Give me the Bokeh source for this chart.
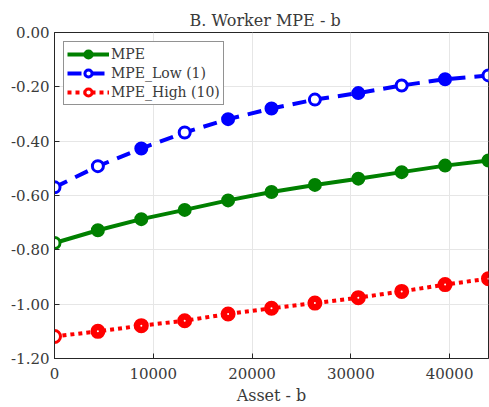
from bokeh.plotting import figure
from bokeh.models import ColumnDataSource, Legend, LegendItem, FixedTicker, NumeralTickFormatter, Range1d
from bokeh.embed import file_html
from bokeh.resources import INLINE

asset = [0, 4394, 8788, 13182, 17576, 21970, 26364, 30758, 35152, 39546, 43940]
mpe = [-0.775, -0.728, -0.687, -0.653, -0.618, -0.587, -0.561, -0.538, -0.514, -0.490, -0.471]
mpe_low = [-0.570, -0.492, -0.427, -0.368, -0.319, -0.280, -0.247, -0.223, -0.195, -0.172, -0.158]
mpe_high = [-1.119, -1.100, -1.079, -1.061, -1.036, -1.015, -0.996, -0.976, -0.953, -0.928, -0.906]
x_ticks = [0, 10000, 20000, 30000, 40000]
y_ticks = [0.0, -0.2, -0.4, -0.6, -0.8, -1.0, -1.2]

FONT = "DejaVu Serif"
TXT = "#3a3a3a"
GREEN = "#008000"
BLUE = "#0000ff"
RED = "#ff0000"

p = figure(width=489, height=407, output_backend="svg", toolbar_location=None,
           x_range=Range1d(0, 43940), y_range=Range1d(-1.2, 0.0),
           min_border_left=54, min_border_right=1, min_border_top=32, min_border_bottom=48)

p.title.text = "B. Worker MPE - b"
p.title.align = "left"
p.title.text_font = FONT
p.title.text_font_size = "16px"
p.title.text_font_style = "normal"
p.title.text_color = TXT
p.title.offset = 135
p.title.standoff = 6

src_m = ColumnDataSource(dict(x=asset, y=mpe, fc=["white"] + [GREEN] * 10))
src_l = ColumnDataSource(dict(x=asset, y=mpe_low,
                              fc=["white", "white", BLUE, "white", BLUE, BLUE, "white", BLUE, "white", BLUE, "white"]))
src_h = ColumnDataSource(dict(x=asset, y=mpe_high, fc=["white"] + [RED] * 10))

l1 = p.line("x", "y", source=src_m, line_color=GREEN, line_width=4)
s1 = p.scatter("x", "y", source=src_m, size=11, marker="circle", line_color=GREEN, fill_color="fc", line_width=3)
l2 = p.line("x", "y", source=src_l, line_color=BLUE, line_width=4, line_dash="14 9")
s2 = p.scatter("x", "y", source=src_l, size=11, marker="circle", line_color=BLUE, fill_color="fc", line_width=3)
l3 = p.line("x", "y", source=src_h, line_color=RED, line_width=4, line_dash="4 4")
s3 = p.scatter("x", "y", source=src_h, size=12, marker="circle", line_color=RED, fill_color="fc", line_width=3)
s3w = p.scatter("x", "y", source=src_h, size=2, marker="circle", line_color=None, fill_color="white")

# legend proxies (points placed outside the visible range)
off = [-1.0e9]
lg1 = p.scatter(off, off, size=11, marker="circle", line_color=GREEN, fill_color=GREEN, line_width=3)
lg2 = p.scatter(off, off, size=10, marker="circle", line_color=BLUE, fill_color="white", line_width=3)
lg3 = p.scatter(off, off, size=10, marker="circle", line_color=RED, fill_color="white", line_width=3)

legend = Legend(items=[
    LegendItem(label="MPE", renderers=[l1, lg1]),
    LegendItem(label="MPE_Low (1)", renderers=[l2, lg2]),
    LegendItem(label="MPE_High (10)", renderers=[l3, lg3]),
], location="top_left")
legend.label_text_font = FONT
legend.label_text_font_size = "14px"
legend.label_text_color = TXT
legend.glyph_width = 42
legend.glyph_height = 18
legend.label_height = 18
legend.label_standoff = 2
legend.spacing = 1
legend.padding = 3
legend.margin = 9
legend.border_line_color = "#262626"
legend.border_line_width = 1
legend.background_fill_alpha = 1
p.add_layout(legend)

for ax in (p.xaxis[0], p.yaxis[0]):
    ax.major_label_text_font = FONT
    ax.major_label_text_font_size = "15px"
    ax.major_label_text_color = TXT
    ax.axis_line_color = "#262626"
    ax.major_tick_line_color = "#262626"
    ax.major_tick_in = 5
    ax.major_tick_out = 0
    ax.minor_tick_line_color = None
    ax.axis_label_text_font = FONT
    ax.axis_label_text_font_style = "normal"
    ax.axis_label_text_color = TXT

p.xaxis[0].ticker = FixedTicker(ticks=x_ticks)
p.yaxis[0].ticker = FixedTicker(ticks=y_ticks)
p.yaxis[0].formatter = NumeralTickFormatter(format="0.00")
p.xaxis[0].axis_label = "Asset - b"
p.xaxis[0].axis_label_text_font_size = "16px"
p.xaxis[0].axis_label_standoff = 4
p.xaxis[0].major_label_standoff = 9
p.yaxis[0].major_label_standoff = 5

p.grid.grid_line_color = "#e6e6e6"
p.grid.grid_line_width = 1
p.outline_line_color = "#262626"
p.outline_line_width = 1
p.background_fill_color = "white"
p.border_fill_color = "white"

open("out.html", "w").write(file_html(p, INLINE))
